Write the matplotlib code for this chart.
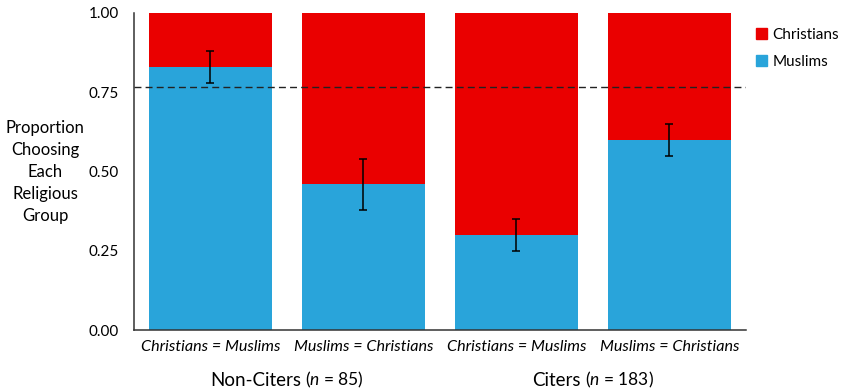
import matplotlib
matplotlib.use("Agg")
import matplotlib.pyplot as plt
from matplotlib.patches import Patch
import numpy as np

plt.rcParams['font.family'] = ['Lato', 'DejaVu Sans']
plt.rcParams['mathtext.fontset'] = 'custom'
plt.rcParams['mathtext.rm'] = 'Lato'
plt.rcParams['mathtext.it'] = 'Lato:italic'

conditions = ["Christians = Muslims", "Muslims = Christians",
              "Christians = Muslims", "Muslims = Christians"]
muslims = [0.83, 0.46, 0.30, 0.60]
err_low = [0.78, 0.38, 0.25, 0.55]
err_high = [0.88, 0.54, 0.35, 0.65]
chance_level = 0.765
groups = ["Non-Citers", "Citers"]
group_n = [85, 183]
yticks = [0.00, 0.25, 0.50, 0.75, 1.00]

red = "#EA0000"
blue = "#29A4DA"

W, H = 845, 391
fig = plt.figure(figsize=(W / 100, H / 100), dpi=100)
ax = fig.add_axes([134 / W, 1 - 330 / H, 612 / W, 317 / H])

x = np.arange(len(conditions))
christians = [1 - m for m in muslims]
ax.bar(x, muslims, width=0.8, color=blue, edgecolor="none", label="Muslims")
ax.bar(x, christians, width=0.8, bottom=muslims, color=red, edgecolor="none",
       label="Christians")

yerr = [np.array(muslims) - np.array(err_low), np.array(err_high) - np.array(muslims)]
ax.errorbar(x, muslims, yerr=yerr, fmt="none", ecolor="black",
            elinewidth=1.1, capsize=3, capthick=1.1)

ax.axhline(chance_level, color="#222222", linestyle=(0, (5, 3)), linewidth=1.0)

ax.set_xlim(-0.5, 3.5)
ax.set_ylim(0, 1)
ax.set_yticks(yticks)
ax.set_yticklabels([f"{v:.2f}" for v in yticks], fontsize=11)
ax.tick_params(axis="y", length=0, pad=11)
ax.set_xticks(x)
ax.set_xticklabels(conditions, fontsize=11.6, style="italic")
ax.tick_params(axis="x", length=0, pad=7)

for side in ["top", "right"]:
    ax.spines[side].set_visible(False)
for side in ["left", "bottom"]:
    ax.spines[side].set_color("#333333")
    ax.spines[side].set_linewidth(1.1)

fig.text(45 / W, 1 - 172 / H,
         "Proportion\nChoosing\nEach\nReligious\nGroup",
         ha="center", va="center", fontsize=12, linespacing=1.45)

# group labels under each pair of bars: large name plus smaller sample size
renderer = fig.canvas.get_renderer()
for i, (g, n) in enumerate(zip(groups, group_n)):
    cx = ax.transData.transform((2 * i + 0.5, 0))[0]
    main = fig.text(0, 1 - 380 / H, g, ha="left", va="center", fontsize=13.5)
    sub = fig.text(0, 1 - 380 / H, f"($\\it{{n}}$ = {n})", ha="left",
                   va="center", fontsize=12.5)
    wm = main.get_window_extent(renderer).width
    ws = sub.get_window_extent(renderer).width
    gap = 4
    left = cx - (wm + gap + ws) / 2
    main.set_x(left / W)
    sub.set_x((left + wm + gap) / W)

handles = [Patch(color=red, label="Christians"), Patch(color=blue, label="Muslims")]
fig.legend(handles=handles, loc="upper left",
           bbox_to_anchor=(750 / W, 1 - 22 / H), frameon=False,
           fontsize=11, handlelength=0.7, handleheight=0.7,
           handletextpad=0.35, labelspacing=0.85, borderaxespad=0)

fig.savefig("out.png", dpi=100)
